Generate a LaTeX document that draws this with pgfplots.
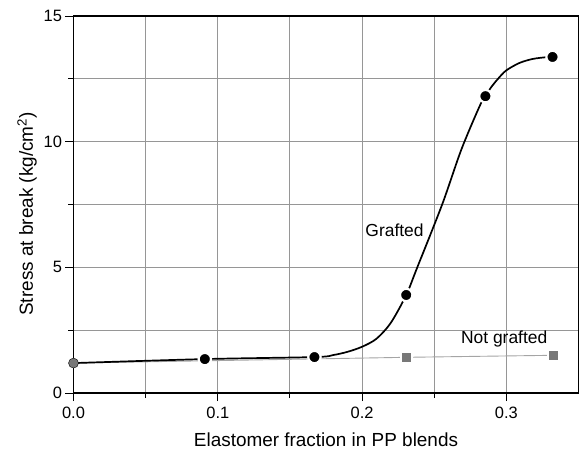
\documentclass[border=0pt]{standalone}
\usepackage{fontspec}
\setmainfont{Liberation Sans}
\usepackage{pgfplots}
\pgfplotsset{compat=1.18}
\definecolor{gridgray}{RGB}{150,150,150}
\definecolor{markgray}{RGB}{120,120,120}
\definecolor{linegray}{RGB}{165,165,165}
\begin{document}
\begin{tikzpicture}
\useasboundingbox (0,0) rectangle (579bp,450bp);
\begin{axis}[
  at={(73.5bp,57bp)}, anchor=south west,
  width=505bp, height=377bp, scale only axis,
  xmin=0, xmax=0.35, ymin=0, ymax=15,
  xtick={0,0.1,0.2,0.3}, xticklabels={0.0,0.1,0.2,0.3},
  ytick={0,5,10,15}, yticklabels={0,5,10,15},
  minor x tick num=1, minor y tick num=1,
  grid=both,
  major grid style={gridgray, line width=0.9bp},
  minor grid style={gridgray, line width=0.9bp},
  tick align=outside, xtick pos=bottom, ytick pos=left,
  major tick length=8bp, minor tick length=5bp,
  tick style={black, line width=0.9bp},
  axis line style={black, line width=1.3bp},
  tick label style={font=\fontsize{16.5}{19}\selectfont},
  xticklabel style={yshift=-3bp},
  label style={font=\fontsize{19}{22}\selectfont},
  xlabel={Elastomer fraction in PP blends},
  ylabel={Stress at break (kg/cm\textsuperscript{2})},
  xlabel style={at={(axis description cs:0.5,-0.124)}, anchor=center},
  ylabel style={at={(axis description cs:-0.092,0.475)}, anchor=center},
  clip=false,
]
\addplot[no marks, color=linegray, line width=0.9bp] coordinates {(0,1.19) (0.2306,1.42) (0.3325,1.50)};
\addplot[no marks, black, line width=1.7bp, smooth] coordinates {
 (0,1.19) (0.091,1.35) (0.167,1.43) (0.18,1.51) (0.19,1.64) (0.2,1.84) (0.21,2.16) (0.22,2.80)
 (0.2306,3.90) (0.238,4.96) (0.2555,7.5) (0.2687,9.67) (0.2813,11.39) (0.2855,11.81)
 (0.2894,12.16) (0.2942,12.50) (0.2998,12.83) (0.309,13.13) (0.3182,13.29) (0.3275,13.36) (0.332,13.37)};
\addplot[only marks, mark=*, mark size=6.2bp, mark options={fill=black, draw=white, line width=2.2bp}] coordinates {(0.091,1.35) (0.167,1.43) (0.2306,3.90) (0.2855,11.81) (0.332,13.37)};
\addplot[only marks, mark=square*, mark size=5.6bp, mark options={fill=markgray, draw=white, line width=2.2bp}] coordinates {(0.2306,1.42) (0.3325,1.50)};
\addplot[only marks, mark=*, mark size=5bp, mark options={fill=markgray, draw=none}] coordinates {(0,1.19)};
\node[font=\fontsize{17.5}{20}\selectfont, anchor=base] at (axis cs:0.2225,6.22) {Grafted};
\node[font=\fontsize{17.5}{20}\selectfont, anchor=base] at (axis cs:0.2985,1.98) {Not grafted};
\end{axis}
\end{tikzpicture}
\end{document}
